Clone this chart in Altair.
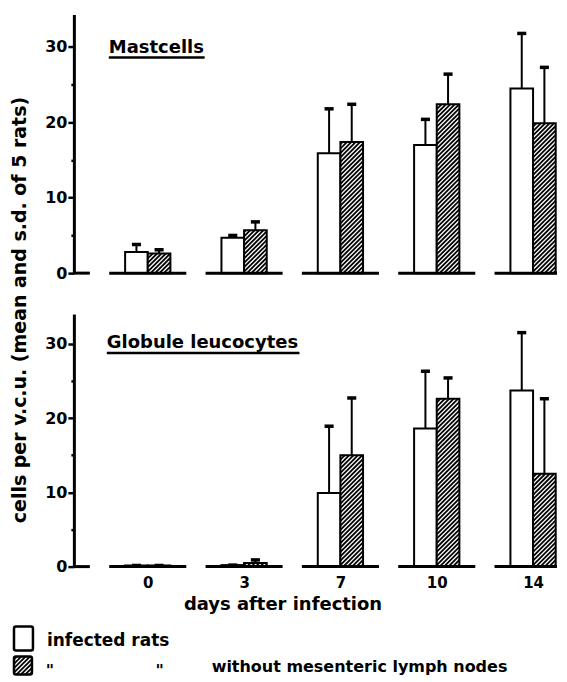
import altair as alt
import pandas as pd

days = ["0", "3", "7", "10", "14"]
mast_infected = [2.8, 4.7, 15.9, 17.0, 24.5]
mast_infected_sd = [1.0, 0.3, 5.9, 3.4, 7.3]
mast_without = [2.6, 5.7, 17.4, 22.4, 19.9]
mast_without_sd = [0.5, 1.1, 5.0, 4.0, 7.4]
glob_infected = [0.15, 0.2, 9.9, 18.6, 23.7]
glob_infected_sd = [0.0, 0.0, 9.0, 7.7, 7.8]
glob_without = [0.15, 0.5, 15.0, 22.6, 12.5]
glob_without_sd = [0.0, 0.4, 7.7, 2.8, 10.1]

panel_titles = ["Mastcells", "Globule leucocytes"]
y_title = "cells per v.c.u. (mean and s.d. of 5 rats)"
x_title = "days after infection"
legend_labels = ["infected rats", "without mesenteric lymph nodes"]
ditto = '"'
y_ticks = [0, 5, 10, 15, 20, 25, 30]

FONT = "DejaVu Sans"
BLACK = "#000000"
W = 484
KX = 96.5
XMIN = -0.767
XMAX = XMIN + W / KX
BW = 0.235
CAP = 0.047
STEP = 4.4


def hatch(x0, x1, y0, y1, kx, ky, step=STEP):
    w = (x1 - x0) * kx
    h = (y1 - y0) * ky
    out = []
    c = -w + step / 2
    while c < h:
        xa = max(0.0, -c)
        xb = min(w, h - c)
        if xb > xa:
            out.append({"hx": x0 + xa / kx, "hy": y0 + (xa + c) / ky,
                        "hx2": x0 + xb / kx, "hy2": y0 + (xb + c) / ky})
        c += step
    return out


def txt(s, x, y, size=18, align="left", angle=0):
    return alt.Chart(pd.DataFrame({"t": [s]})).mark_text(
        align=align, baseline="middle", font=FONT, fontSize=size,
        fontWeight="bold", color=BLACK, angle=angle
    ).encode(x=alt.value(x), y=alt.value(y), text="t:N")


def panel(vals_w, sd_w, vals_h, sd_h, H, YMAX, title, tpos, ul, bottom):
    ky = H / YMAX
    xs = alt.Scale(domain=[XMIN, XMAX], nice=False, zero=False)
    ys = alt.Scale(domain=[0, YMAX], nice=False, zero=False)
    rows, hrows, brows = [], [], []
    for i in range(len(days)):
        for kind, x0, v, s in (("infected", i - BW, vals_w[i], sd_w[i]),
                               ("without", i, vals_h[i], sd_h[i])):
            xc = x0 + BW / 2
            rows.append(dict(kind=kind, x0=x0, x1=x0 + BW, xc=xc, c0=xc - CAP,
                             c1=xc + CAP, v=v, top=v + s, zero=0.0))
            if kind == "without":
                hrows += hatch(x0, x0 + BW, 0.0, v, KX, ky)
        brows.append(dict(bx=i - 0.4, bx2=min(i + 0.4, XMAX), by=0.0))
    brows.append(dict(bx=XMIN, bx2=XMIN + 16 / KX, by=0.0))

    def lx(p):
        return XMIN + p / KX

    def ly(p):
        return YMAX - p / ky

    swatches = []
    if bottom:
        swatches = [dict(x0=lx(-60), x1=lx(-41), v=ly(337), zero=ly(313)),
                    dict(x0=lx(-60), x1=lx(-42), v=ly(361), zero=ly(343))]
        hrows += hatch(lx(-60), lx(-42), ly(361), ly(343), KX, ky)

    df = pd.DataFrame(rows)
    hdf = pd.DataFrame(hrows)
    bdf = pd.DataFrame(brows)

    yaxis = alt.Axis(values=y_ticks,
                     labelExpr="datum.value % 10 === 0 ? datum.label : ''",
                     title=None, grid=False, domainWidth=3, domainColor=BLACK,
                     tickColor=BLACK, tickWidth=2.5,
                     tickSize={"condition": {"test": "datum.value % 10 === 0", "value": 6}, "value": 3},
                     labelFont=FONT, labelFontSize=16, labelFontWeight="bold",
                     labelColor=BLACK, labelPadding=1)
    if bottom:
        expr = "[" + ",".join("'%s'" % d for d in days) + "][datum.value]"
        xaxis = alt.Axis(values=list(range(len(days))), labelExpr=expr,
                         domain=False, ticks=False, tickSize=0, grid=False,
                         labelFont=FONT, labelFontSize=15, labelFontWeight="bold",
                         labelColor=BLACK, labelPadding=9,
                         title=x_title, titleFont=FONT, titleFontSize=18,
                         titleFontWeight="bold", titleColor=BLACK,
                         titleX=209, titleY=38, titleBaseline="middle",
                         titleAlign="center")
    else:
        xaxis = None

    def X(f):
        return alt.X(f, type="quantitative", scale=xs, axis=xaxis)

    def Y(f):
        return alt.Y(f, type="quantitative", scale=ys, axis=yaxis)

    bars = alt.Chart(df).mark_rect(fill="white", stroke=BLACK, strokeWidth=2).encode(
        x=X("x0"), x2="x1", y=Y("v"), y2="zero")
    baseline = alt.Chart(bdf).mark_rule(strokeWidth=3, color=BLACK).encode(
        x=X("bx"), x2="bx2", y=Y("by"))
    layers = [bars, baseline]
    if bottom:
        sw = alt.Chart(pd.DataFrame(swatches)).mark_rect(
            fill="white", stroke=BLACK, strokeWidth=2.5, cornerRadius=2).encode(
            x=X("x0"), x2="x1", y=Y("v"), y2="zero")
        layers.append(sw)
    hl = alt.Chart(hdf).mark_rule(strokeWidth=1.8, color=BLACK).encode(
        x=X("hx"), x2="hx2", y=Y("hy"), y2="hy2")
    err = alt.Chart(df).mark_rule(strokeWidth=2, color=BLACK).encode(
        x=X("xc"), y=Y("v"), y2="top")
    cap = alt.Chart(df).mark_rule(strokeWidth=3.5, color=BLACK).encode(
        x=X("c0"), x2="c1", y=Y("top"))
    layers += [hl, err, cap]
    layers.append(txt(title, tpos[0], tpos[1]))
    layers.append(alt.Chart(pd.DataFrame({"a": [0]})).mark_rule(
        strokeWidth=2.5, color=BLACK).encode(
        x=alt.value(ul[0]), x2=alt.value(ul[1]), y=alt.value(ul[2])))
    if bottom:
        layers.append(txt(y_title, -54, -4, size=19, angle=270, align="center"))
        layers.append(txt(legend_labels[0], -27, 328, size=17))
        layers.append(txt(ditto, -24, 358, size=16, align="center"))
        layers.append(txt(ditto, 86, 358, size=16, align="center"))
        layers.append(txt(legend_labels[1], 138, 354, size=16))
    return alt.layer(*layers).properties(width=W, height=H)


top = panel(mast_infected, mast_infected_sd, mast_without, mast_without_sd,
            259, 34.3, panel_titles[0], (35, 33), (35, 131, 43), False)
bottom = panel(glob_infected, glob_infected_sd, glob_without, glob_without_sd,
               253, 34.0, panel_titles[1], (33, 29), (33, 226, 39), True)

chart = alt.vconcat(top, bottom, spacing=41, bounds="flush").properties(
    padding={"left": 2, "top": 6, "right": 0, "bottom": 0},
    background="white"
).configure_view(stroke="transparent", strokeWidth=0)

chart.save("out.html", embed_options={"renderer": "svg", "actions": False})
